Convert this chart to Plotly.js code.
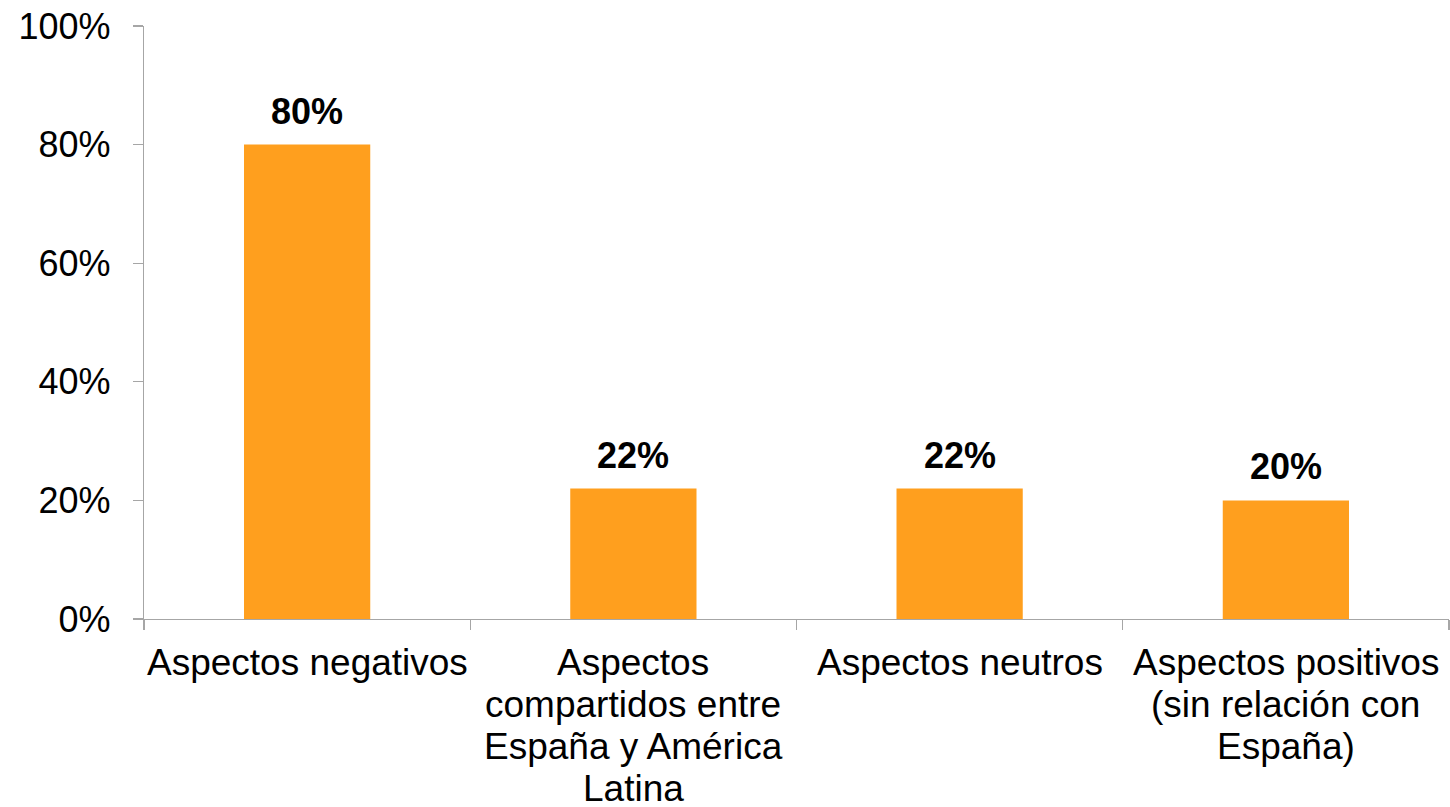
<!DOCTYPE html>
<html>
<head>
<meta charset="utf-8">
<script src="https://cdn.plot.ly/plotly-3.0.1.min.js"></script>
<style>html,body{margin:0;padding:0;background:#fff;}#chart{width:1450px;height:807px;}</style>
</head>
<body>
<div id="chart"></div>
<script>
const categories = ["Aspectos negativos", "Aspectos compartidos entre España y América Latina", "Aspectos neutros", "Aspectos positivos (sin relación con España)"];
const categoryLines = [
  ["Aspectos negativos"],
  ["Aspectos", "compartidos entre", "España y América", "Latina"],
  ["Aspectos neutros"],
  ["Aspectos positivos", "(sin relación con", "España)"]
];
const values = [80, 22, 22, 20];
const valueLabels = ["80%", "22%", "22%", "20%"];
const yTicks = [0, 20, 40, 60, 80, 100];

const FONT = '"Liberation Sans", Arial, sans-serif';
const AXIS_COLOR = '#A6A6A6';

const annotations = [];
categories.forEach((c, i) => {
  categoryLines[i].forEach((line, j) => {
    annotations.push({
      x: c, xref: 'x', y: 0, yref: 'paper', yanchor: 'top', xanchor: 'center',
      yshift: -(21 + j * 42), showarrow: false, text: line,
      font: {family: FONT, size: 37, color: '#000'}
    });
  });
  annotations.push({
    x: c, xref: 'x', y: values[i], yref: 'y', yanchor: 'bottom', xanchor: 'center',
    yshift: 11, showarrow: false, text: '<b>' + valueLabels[i] + '</b>',
    font: {family: FONT, size: 36, color: '#000'}
  });
});

const data = [{
  type: 'bar', x: categories, y: values, width: 0.387,
  marker: {color: '#FF9F1E'}, hoverinfo: 'skip'
}];

const layout = {
  width: 1450, height: 807,
  margin: {l: 144, r: 1, t: 26, b: 188},
  paper_bgcolor: '#fff', plot_bgcolor: '#fff',
  showlegend: false,
  font: {family: FONT, size: 36, color: '#000'},
  xaxis: {
    type: 'category', showticklabels: false, tickson: 'boundaries',
    ticks: 'outside', ticklen: 10, tickcolor: AXIS_COLOR, tickwidth: 1.3,
    showline: true, linecolor: AXIS_COLOR, linewidth: 1.3, showgrid: false, zeroline: false
  },
  yaxis: {
    range: [0, 100], tickvals: yTicks, ticktext: yTicks.map(v => v + '%'),
    ticks: 'outside', ticklen: 10, tickcolor: AXIS_COLOR, tickwidth: 1.3,
    showline: true, linecolor: AXIS_COLOR, linewidth: 1.3, showgrid: false, zeroline: false,
    tickfont: {family: FONT, size: 36, color: '#000'}, ticklabelstandoff: 15
  },
  annotations: annotations
};

Plotly.newPlot('chart', data, layout, {displayModeBar: false, staticPlot: true});
</script>
</body>
</html>
